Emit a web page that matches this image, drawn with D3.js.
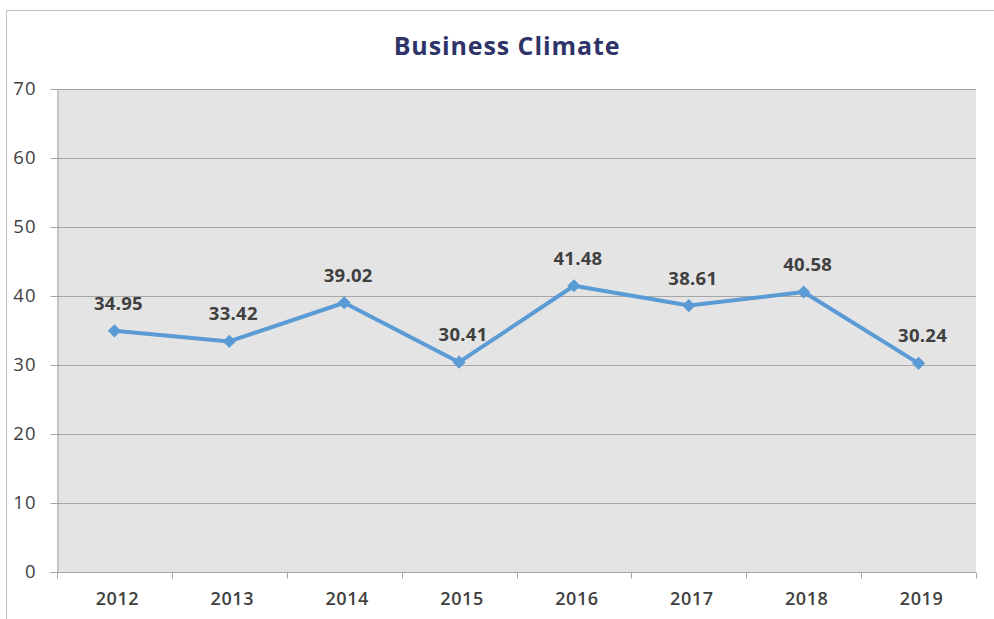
<!DOCTYPE html>
<html>
<head>
<meta charset="utf-8">
<script src="https://cdn.jsdelivr.net/npm/d3@7"></script>
<style>
  html, body { margin: 0; padding: 0; background: #fff; }
  svg { display: block; font-family: "Open Sans", "Noto Sans", sans-serif; }
</style>
</head>
<body>
<svg id="chart" width="994" height="619"></svg>
<script>
// Business climate index by year
const years = ["2012", "2013", "2014", "2015", "2016", "2017", "2018", "2019"];
const values = [34.95, 33.42, 39.02, 30.41, 41.48, 38.61, 40.58, 30.24];
const yTicks = [0, 10, 20, 30, 40, 50, 60, 70];
const title = "Business Climate";

const FONT = "'Open Sans', 'Noto Sans', sans-serif";
const svg = d3.select("#chart");
const W = 994, H = 619;
const plot = { left: 57, top: 89, right: 976, bottom: 572 };

// outer frame
svg.append("rect")
  .attr("x", 6.5).attr("y", 10.5)
  .attr("width", W + 10).attr("height", H + 10)
  .attr("fill", "#fff").attr("stroke", "#bfbfbf").attr("stroke-width", 1);

const x = d3.scaleBand().domain(years).range([plot.left, plot.right]).padding(0);
const y = d3.scaleLinear().domain([0, 70]).range([plot.bottom, plot.top]);

// plot area background
svg.append("rect")
  .attr("x", plot.left).attr("y", plot.top)
  .attr("width", plot.right - plot.left).attr("height", plot.bottom - plot.top)
  .attr("fill", "#e4e4e4");

// gridlines
svg.append("g")
  .selectAll("line")
  .data(yTicks.filter(d => d > 0))
  .join("line")
  .attr("x1", plot.left).attr("x2", plot.right)
  .attr("y1", d => Math.round(y(d)) + 0.5).attr("y2", d => Math.round(y(d)) + 0.5)
  .attr("stroke", "#a6a6a6").attr("stroke-width", 1);

// y axis
const yAxis = svg.append("g")
  .attr("transform", `translate(${plot.left + 0.5},0)`)
  .call(d3.axisLeft(y).tickValues(yTicks).tickSize(7).tickPadding(14).tickFormat(d3.format("d")));
yAxis.select(".domain").attr("stroke", "#a6a6a6");
yAxis.selectAll(".tick line").attr("stroke", "#a6a6a6");
yAxis.selectAll(".tick text")
  .attr("fill", "#404040").attr("font-size", 18.5).attr("font-weight", 500)
  .attr("font-family", FONT).attr("letter-spacing", 1)
  .attr("dy", "0.3em");

// x axis with tick marks at category boundaries
const xAxisG = svg.append("g").attr("transform", `translate(0,${plot.bottom + 0.5})`);
xAxisG.append("line")
  .attr("x1", plot.left).attr("x2", plot.right)
  .attr("stroke", "#a6a6a6");
const bounds = years.map(d => x(d)).concat([x(years[years.length - 1]) + x.bandwidth()]);
xAxisG.selectAll("line.tk")
  .data(bounds)
  .join("line").attr("class", "tk")
  .attr("x1", d => Math.round(d) + 0.5).attr("x2", d => Math.round(d) + 0.5)
  .attr("y1", 0).attr("y2", 6)
  .attr("stroke", "#a6a6a6");
xAxisG.selectAll("text")
  .data(years)
  .join("text")
  .attr("x", d => x(d) + x.bandwidth() / 2 + 3)
  .attr("y", 32)
  .attr("text-anchor", "middle")
  .attr("fill", "#404040").attr("font-size", 18).attr("font-weight", 600)
  .attr("font-family", FONT).attr("letter-spacing", 0.6)
  .text(d => d);

// title
svg.append("text")
  .attr("x", 507).attr("y", 55)
  .attr("text-anchor", "middle")
  .attr("fill", "#2f3468").attr("font-size", 25).attr("font-weight", 700)
  .attr("font-family", FONT).attr("letter-spacing", 0.9)
  .text(title);

const pts = years.map((d, i) => ({ year: d, value: values[i] }));
const cx = d => x(d.year) + x.bandwidth() / 2;

// series line
svg.append("path")
  .datum(pts)
  .attr("fill", "none")
  .attr("stroke", "#5b9bd5").attr("stroke-width", 4)
  .attr("stroke-linejoin", "round")
  .attr("d", d3.line().x(cx).y(d => y(d.value)));

// diamond markers
svg.append("g")
  .selectAll("path")
  .data(pts)
  .join("path")
  .attr("transform", d => `translate(${cx(d)},${y(d.value)})`)
  .attr("d", d3.symbol().type(d3.symbolDiamond2).size(110))
  .attr("fill", "#5b9bd5");

// value labels
svg.append("g")
  .selectAll("text")
  .data(pts)
  .join("text")
  .attr("x", d => cx(d) + 4)
  .attr("y", d => y(d.value) - 21)
  .attr("text-anchor", "middle")
  .attr("fill", "#404040").attr("font-size", 18.5).attr("font-weight", 700)
  .attr("font-family", FONT).attr("letter-spacing", 0.3)
  .text(d => d.value.toFixed(2));
</script>
</body>
</html>
